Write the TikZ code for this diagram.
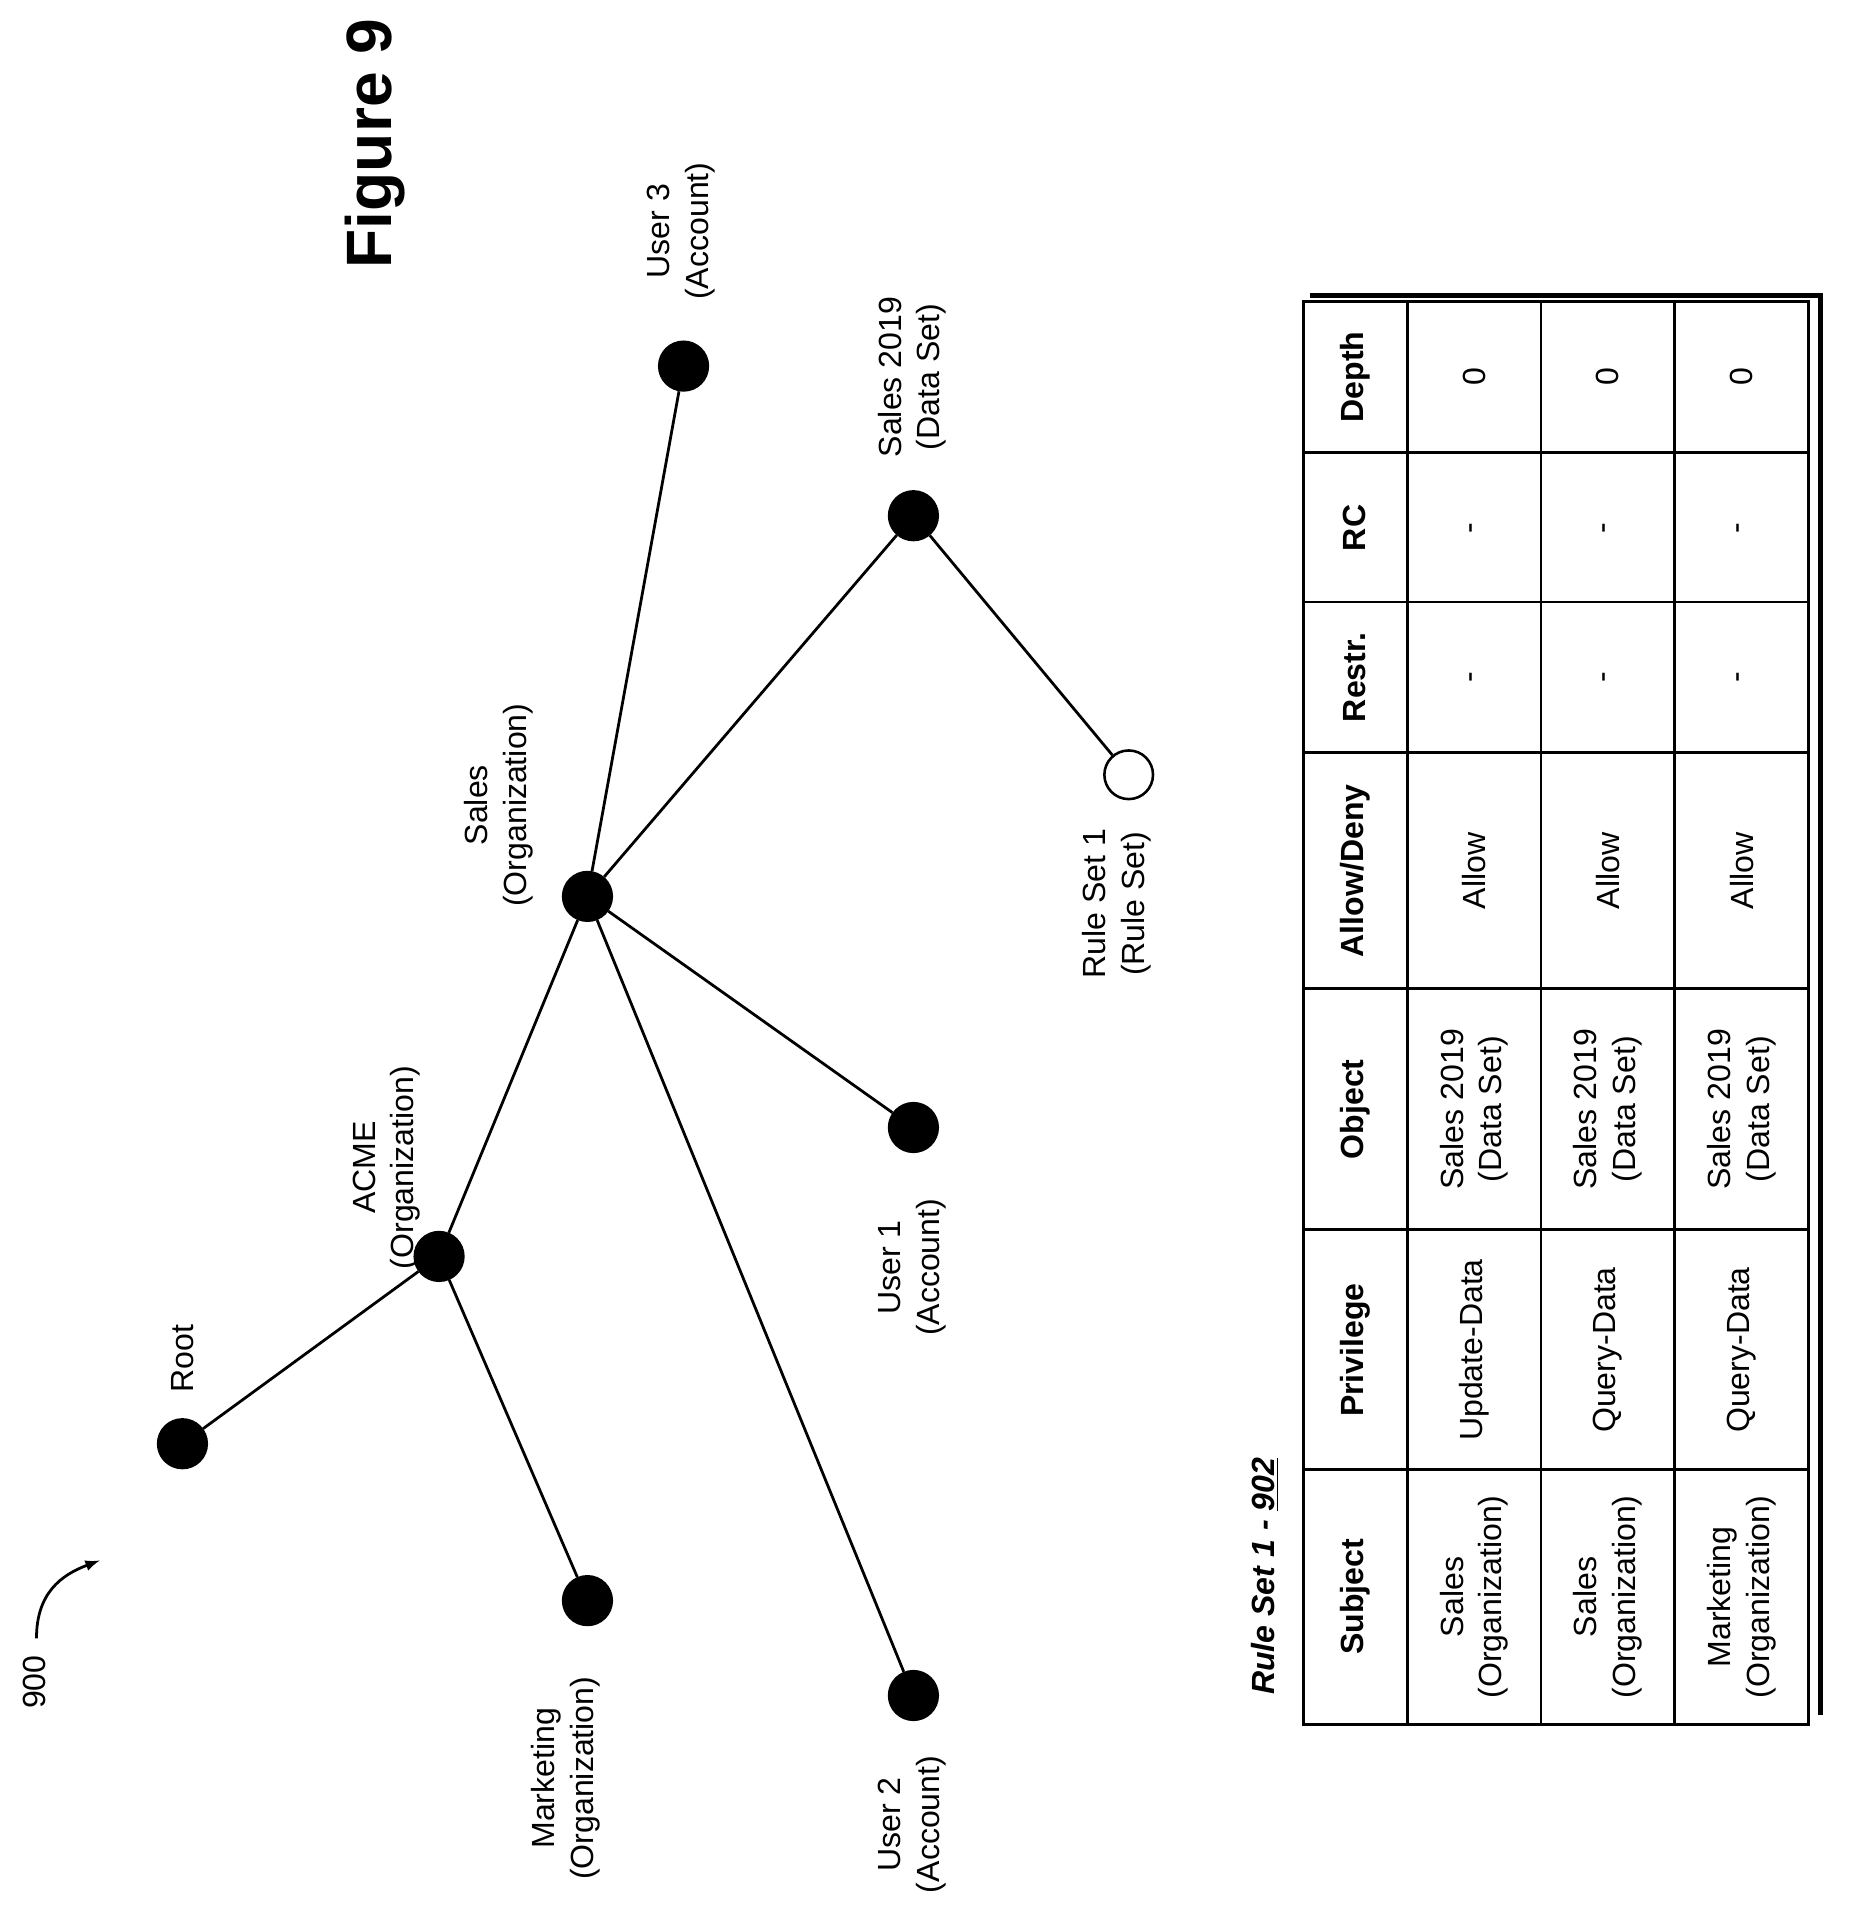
\documentclass[tikz,border=0pt]{standalone}
\usepackage{fontspec}
\setmainfont{Liberation Sans}
\usetikzlibrary{positioning}
\begin{document}
\begin{tikzpicture}[x=0.02cm,y=-0.02cm,
  vertex/.style={circle, draw, line width=1.2pt, fill=black, minimum size=40*0.02cm, inner sep=0pt},
  open/.style={vertex, fill=white},
  edge/.style={line width=1.3pt},
  lbl/.style={rotate=90, align=center, font=\fontsize{15}{18}\selectfont},
  cell/.style={rotate=90, align=center, font=\fontsize{15}{18}\selectfont},
  head/.style={rotate=90, font=\bfseries\fontsize{15}{18}\selectfont}]
\useasboundingbox (0,0) rectangle (1530,1586);
% tree
\node[vertex] (root) at (150,1187) {};
\node[vertex] (acme) at (361,1033) {};
\node[vertex] (mkt) at (483,1316) {};
\node[vertex] (sales) at (483,737) {};
\node[vertex] (u2) at (751,1394) {};
\node[vertex] (u1) at (751,927) {};
\node[vertex] (ds) at (751,424) {};
\node[vertex] (u3) at (562,301) {};
\node[open] (rs) at (928,637) {};
\draw[edge] (root) -- (acme) (acme) -- (mkt) (acme) -- (sales)
  (sales) -- (u2) (sales) -- (u1) (sales) -- (ds) (sales) -- (u3) (ds) -- (rs);
\node[lbl] (rootl) at (150,1117) {Root};
\node[lbl] (acmel) at (318,960) {ACME\\(Organization)};
\node[lbl] (mktl) at (465,1462) {Marketing\\(Organization)};
\node[lbl] (salesl) at (410,662) {Sales\\(Organization)};
\node[lbl] (u2l) at (750,1500) {User 2\\(Account)};
\node[lbl] (u1l) at (750,1042) {User 1\\(Account)};
\node[lbl] (dsl) at (750,310) {Sales 2019\\(Data Set)};
\node[lbl] (u3l) at (560,190) {User 3\\(Account)};
\node[lbl] (rsl) at (918,743) {Rule Set 1\\(Rule Set)};
\node[rotate=90, font=\bfseries\fontsize{30}{36}\selectfont] (fig) at (308,118) {Figure 9};
\node[lbl] (ref) at (28,1383) {900};
\coordinate (refa) at (82,1283);
\draw[line width=1.3pt, -latex] (30,1347) .. controls (30,1310) and (50,1295) .. (refa);
% table
\draw[line width=2.5pt] (1077,243) -- (1497,243) -- (1497,1410);
\draw[line width=1.3pt] (1072,248) rectangle (1487,1418);
\foreach \x in {1157,1267,1377} \draw[line width=1.3pt] (\x,248) -- (\x,1418);
\foreach \y in {372,495,619,813,1011,1208} \draw[line width=1.3pt] (1072,\y) -- (1487,\y);
\foreach \t/\y in {Subject/1313,Privilege/1110,Object/912,Allow\slash Deny/716,Restr./557,RC/434,Depth/310}
  \node[head] at (1114,\y) {\t};
\foreach \r/\s/\p in {1212/Sales/Update-Data,1322/Sales/Query-Data,1432/Marketing/Query-Data}{
  \node[cell] at (\r,1313) {\s\\(Organization)};
  \node[cell] at (\r,1110) {\p};
  \node[cell] at (\r,912) {Sales 2019\\(Data Set)};
  \node[cell] at (\r,716) {Allow};
  \node[cell] at (\r,557) {-};
  \node[cell] at (\r,434) {-};
  \node[cell] at (\r,310) {0};
}
\node[rotate=90, font=\bfseries\itshape\fontsize{15}{18}\selectfont] (title) at (1040,1296) {Rule Set 1 - \underline{902}};
\end{tikzpicture}
\end{document}
